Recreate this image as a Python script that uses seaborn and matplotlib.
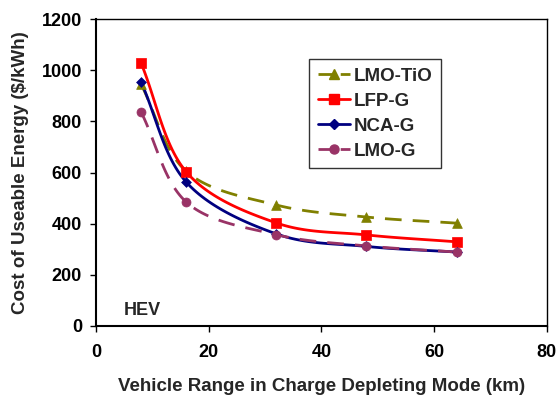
import numpy as np
import pandas as pd
import matplotlib
matplotlib.use("Agg")
import matplotlib.pyplot as plt
import seaborn as sns
from matplotlib.lines import Line2D

# ---- data ----
range_km = [8, 16, 32, 48, 64]
lmo_tio = [945, 605, 473, 426, 402]
lfp_g = [1028, 603, 403, 356, 329]
nca_g = [954, 563, 360, 311, 289]
lmo_g = [837, 485, 357, 313, 289]
series_names = ["LMO-TiO", "LFP-G", "NCA-G", "LMO-G"]
x_ticks = [0, 20, 40, 60, 80]
y_ticks = [0, 200, 400, 600, 800, 1000, 1200]

sns.set_theme(style="white")
plt.rcParams["font.family"] = ["Liberation Sans", "DejaVu Sans"]
plt.rcParams["font.weight"] = "bold"

fig = plt.figure(figsize=(5.58, 3.98), dpi=100)
ax = fig.add_axes([0.172, 0.181, 0.808, 0.771])

def smooth(xs, ys, n=30):
    # Excel-like smoothed line (Catmull-Rom through the points)
    xs = np.asarray(xs, float); ys = np.asarray(ys, float)
    P = np.column_stack([xs, ys])
    P = np.vstack([P[0] - (P[1] - P[0]), P, P[-1] + (P[-1] - P[-2])])
    out = []
    t = np.linspace(0, 1, n)[:, None]
    for i in range(1, len(P) - 2):
        p0, p1, p2, p3 = P[i - 1], P[i], P[i + 1], P[i + 2]
        c = 0.5 * ((2 * p1) + (-p0 + p2) * t + (2 * p0 - 5 * p1 + 4 * p2 - p3) * t ** 2
                   + (-p0 + 3 * p1 - 3 * p2 + p3) * t ** 3)
        out.append(c if i == 1 else c[1:])
    c = np.vstack(out)
    return c[:, 0], c[:, 1]

styles = {
    "LMO-TiO": dict(vals=lmo_tio, color="#808000", marker="^", dash=(6, 4), ms=7),
    "LFP-G": dict(vals=lfp_g, color="#FF0000", marker="s", dash=None, ms=7),
    "NCA-G": dict(vals=nca_g, color="#000080", marker="D", dash=None, ms=5),
    "LMO-G": dict(vals=lmo_g, color="#993366", marker="o", dash=(6, 4), ms=6.5),
}

handles = []
for name in series_names:
    st = styles[name]
    sx, sy = smooth(range_km, st["vals"])
    df_line = pd.DataFrame({"x": sx, "y": sy})
    sns.lineplot(data=df_line, x="x", y="y", ax=ax, color=st["color"], lw=2,
                 sort=False, estimator=None)
    line = ax.lines[-1]
    if st["dash"]:
        line.set_dashes(st["dash"])
    df_pts = pd.DataFrame({"x": range_km, "y": st["vals"]})
    sns.scatterplot(data=df_pts, x="x", y="y", ax=ax, color=st["color"],
                    marker=st["marker"], s=st["ms"] ** 2, edgecolor=st["color"],
                    linewidth=0.5, zorder=5)
    h = Line2D([], [], color=st["color"], lw=2, marker=st["marker"], markersize=st["ms"],
               markeredgecolor=st["color"])
    if st["dash"]:
        h.set_dashes((5, 3))
    handles.append(h)

ax.set_xlim(0, 80)
ax.set_ylim(0, 1200)
ax.set_xticks(x_ticks)
ax.set_yticks(y_ticks)
ax.tick_params(axis="both", direction="out", length=4, width=1, labelsize=13,
               colors="black", pad=6, left=True, bottom=True)
ax.tick_params(axis="x", pad=9)
for lab in ax.get_xticklabels() + ax.get_yticklabels():
    lab.set_fontweight("bold")
ax.set_xlabel("Vehicle Range in Charge Depleting Mode (km)", fontsize=13.5,
              fontweight="bold", labelpad=12)
ax.set_ylabel("Cost of Useable Energy ($/kWh)", fontsize=13.5, fontweight="bold", labelpad=9)
for side in ["top", "right"]:
    ax.spines[side].set_linewidth(1)
    ax.spines[side].set_color("black")
for side in ["left", "bottom"]:
    ax.spines[side].set_linewidth(1.5)
    ax.spines[side].set_color("black")

ax.text(5, 62, "HEV", fontsize=13, fontweight="bold", ha="left", va="center")

leg = ax.legend(handles, series_names, loc="upper left", bbox_to_anchor=(0.473, 0.87),
                borderaxespad=0, prop={"weight": "bold", "size": 13.5}, frameon=True,
                fancybox=False, edgecolor="black", handlelength=1.7, handletextpad=0.25,
                labelspacing=0.42, borderpad=0.45)
leg.get_frame().set_linewidth(1)

fig.savefig("out.png", dpi=100)
